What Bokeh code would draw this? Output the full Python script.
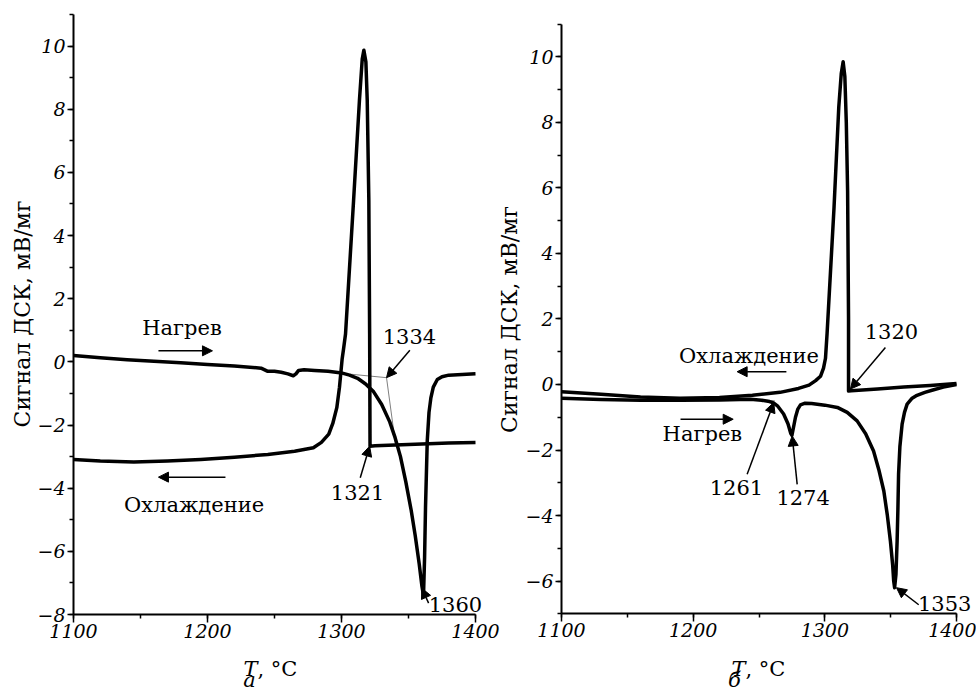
import math
from bokeh.plotting import figure
from bokeh.models import Range1d, SingleIntervalTicker, Label, Arrow, NormalHead, LinearAxis
from bokeh.embed import file_html
from bokeh.resources import INLINE

# ---------------- panel a ----------------
a_heat_T = [1100, 1120, 1140, 1160, 1180, 1200, 1220, 1240, 1245, 1250, 1255, 1260, 1264, 1266,
            1268, 1272, 1280, 1290, 1300, 1306, 1312, 1318, 1324, 1330, 1336, 1340, 1344, 1348,
            1352, 1355, 1358, 1360, 1361.2, 1362, 1362.7, 1364, 1365.3, 1366.7, 1368.5, 1371.5,
            1375, 1380, 1390, 1400]
a_heat_S = [0.2, 0.13, 0.07, 0.02, -0.03, -0.08, -0.13, -0.2, -0.3, -0.3, -0.33, -0.38, -0.44, -0.38,
            -0.27, -0.25, -0.27, -0.3, -0.35, -0.42, -0.52, -0.7, -0.95, -1.35, -1.9, -2.4, -3.0, -3.8,
            -4.7, -5.5, -6.4, -7.1, -7.4, -6.2, -4.6, -2.5, -1.6, -1.14, -0.8, -0.56,
            -0.47, -0.42, -0.4, -0.38]

a_cool_T = [1400, 1380, 1360, 1340, 1325, 1321.3, 1321.0, 1320.4, 1319.2, 1318.2, 1316.7, 1315.5,
            1313.4, 1309.0, 1303.0, 1301.5, 1300.5, 1298.5, 1296.5, 1293.5, 1290.5, 1285, 1279,
            1265, 1245, 1220, 1195, 1170, 1145, 1120, 1100]
a_cool_S = [-2.55, -2.57, -2.6, -2.63, -2.66, -2.67, 0.9, 5.1, 8.29, 9.5, 9.87, 9.6,
            8.29, 5.1, 0.88, 0.4, 0.1, -0.8, -1.45, -1.95, -2.29, -2.55, -2.72,
            -2.83, -2.93, -3.02, -3.09, -3.14, -3.17, -3.14, -3.09]

a_tangent_T = [1306.7, 1333.6, 1340.3]
a_tangent_S = [-0.39, -0.5, -2.61]

a_texts = ["Нагрев", "Охлаждение", "1334", "1321", "1360"]
a_text_T = [1181, 1190, 1350.7, 1312, 1385]
a_text_S = [1.06, -4.54, 0.79, -4.14, -7.67]

a_arrow_T0 = [1163.4, 1213.4, 1351, 1314, 1365]
a_arrow_S0 = [0.35, -3.65, 0.37, -3.67, -7.64]
a_arrow_T1 = [1203.7, 1163.4, 1333.6, 1321, 1360]
a_arrow_S1 = [0.35, -3.65, -0.5, -2.67, -7.17]

# ---------------- panel б ----------------
b_cool_T = [1400, 1380, 1360, 1340, 1320, 1318, 1318, 1317.3, 1316.3, 1315.2, 1313.9,
            1312.5, 1310.6, 1307, 1301.7, 1300.5, 1299, 1296.7, 1293, 1288, 1280,
            1266, 1245, 1220, 1190, 1160, 1130, 1100]
b_cool_S = [0.03, -0.03, -0.08, -0.14, -0.19, -0.2, 2.0, 5.9, 8.0, 9.4, 9.85,
            9.5, 8.47, 5.41, 1.55, 0.8, 0.5, 0.25, 0.12, -0.02, -0.12,
            -0.24, -0.33, -0.4, -0.42, -0.38, -0.3, -0.22]

b_heat_T = [1100, 1130, 1160, 1190, 1220, 1243.5, 1252, 1258, 1261, 1264, 1268.7, 1272, 1274.2,
            1275, 1276, 1277.7, 1279.5, 1281.5, 1285, 1290, 1300, 1309.5, 1317, 1324.5, 1331,
            1337, 1341, 1344.8, 1347.5, 1349.8, 1351.5, 1352.3, 1353, 1354, 1354.9, 1355.5,
            1356, 1357, 1358.7, 1360.5, 1362.5, 1366, 1370, 1376, 1382.7, 1390, 1400]
b_heat_S = [-0.42, -0.46, -0.48, -0.48, -0.47, -0.45, -0.48, -0.52, -0.56, -0.65, -0.9, -1.2, -1.5,
            -1.55, -1.35, -1.0, -0.75, -0.62, -0.57, -0.58, -0.63, -0.7, -0.85, -1.11, -1.5,
            -2.03, -2.6, -3.25, -4.0, -4.78, -5.5, -6.0, -6.2, -5.8, -4.78, -3.8,
            -2.74, -1.9, -1.21, -0.85, -0.6, -0.43, -0.33, -0.24, -0.16, -0.08, 0.0]

b_tangent_T = [1240, 1262]
b_tangent_S = [-0.44, -0.5]

b_texts = ["Охлаждение", "Нагрев", "1320", "1261", "1274", "1353"]
b_text_T = [1242.4, 1207, 1350.6, 1232.9, 1283.5, 1391]
b_text_S = [0.88, -1.51, 1.61, -3.14, -3.46, -6.69]

b_arrow_T0 = [1270.8, 1190.4, 1346, 1241, 1279, 1371.3]
b_arrow_S0 = [0.39, -1.06, 1.13, -2.74, -3.05, -6.72]
b_arrow_T1 = [1233.4, 1230.4, 1319.4, 1261.2, 1275.2, 1354.4]
b_arrow_S1 = [0.39, -1.06, -0.14, -0.55, -1.57, -6.2]

x_ticks = [1100, 1200, 1300, 1400]
a_y_ticks = [-8, -6, -4, -2, 0, 2, 4, 6, 8, 10]
b_y_ticks = [-6, -4, -2, 0, 2, 4, 6, 8, 10]
y_title = "Сигнал ДСК, мВ/мг"

SERIF = "DejaVu Serif"
W, H = 976, 693          # canvas size; the page draws it at the top-left corner
OX, OY = 0, 0


def xr(v0, p0, v1, p1):
    s = (p1 - p0) / (v1 - v0)
    start = v0 - (p0 - OX) / s
    return Range1d(start, start + W / s)


def yr(vt, pt, vb, pb):
    s = (pb - pt) / (vt - vb)
    end = vt + (pt - OY) / s
    return Range1d(end - H / s, end)


def px2x(rng, px):
    return rng.start + (px - OX) / W * (rng.end - rng.start)


def py2y(rng, py):
    return rng.end - (py - OY) / H * (rng.end - rng.start)


def fmt(v):
    return ("\u2212" + str(abs(v))) if v < 0 else str(v)


xa = xr(1100, 73, 1400, 475)
ya = yr(11, 14, -8, 614)
xb = xr(1100, 561, 1400, 956)
yb = yr(11, 23.5, -7, 613.4)

p = figure(width=W, height=H, output_backend="svg", toolbar_location=None,
           x_range=xa, y_range=ya, x_axis_type=None, y_axis_type=None,
           min_border=0, min_border_left=0, min_border_right=0,
           min_border_top=0, min_border_bottom=0)
p.extra_x_ranges = {"xb": xb}
p.extra_y_ranges = {"yb": yb}
p.outline_line_color = None
p.grid.visible = False
p.background_fill_color = "white"
p.border_fill_color = "white"


def style_axis(ax, is_x):
    ax.axis_line_width = 2
    ax.axis_line_color = "black"
    ax.major_tick_line_width = 1.5
    ax.minor_tick_line_width = 1.5
    ax.major_tick_line_color = "black"
    ax.minor_tick_line_color = "black"
    ax.major_tick_in = 0
    ax.minor_tick_in = 0
    ax.minor_tick_out = 4
    ax.major_tick_out = 8 if is_x else 6
    ax.major_label_standoff = 1 if is_x else 2
    ax.major_label_text_font = SERIF
    ax.major_label_text_font_style = "italic"
    ax.major_label_text_font_size = "19px"
    ax.major_label_text_color = "black"


def panel(rx, ry, heat_T, heat_S, cool_T, cool_S, tan_T, tan_S, texts, tT, tS,
          aT0, aS0, aT1, aS1, y_ticks, ybottom, letter,
          ylab_px, ylab_py, t_px, t_py, let_px, let_py):
    xrng = xa if rx == "default" else xb
    yrng = ya if ry == "default" else yb
    kw = dict(x_range_name=rx, y_range_name=ry)

    xaxis = LinearAxis(ticker=SingleIntervalTicker(interval=100, num_minor_ticks=2),
                       fixed_location=ybottom, bounds=(1100, 1400), **kw)
    style_axis(xaxis, True)
    xaxis.major_label_overrides = {t: str(t) for t in x_ticks}
    p.add_layout(xaxis, "below")

    yaxis = LinearAxis(ticker=SingleIntervalTicker(interval=2, num_minor_ticks=2),
                       fixed_location=1100, bounds=(ybottom, 11), **kw)
    style_axis(yaxis, False)
    yaxis.major_label_overrides = {t: fmt(t) for t in y_ticks}
    p.add_layout(yaxis, "left")

    p.line(tan_T, tan_S, line_color="#808080", line_width=1, **kw)
    p.line(heat_T, heat_S, line_color="black", line_width=3.5, line_join="round", **kw)
    p.line(cool_T, cool_S, line_color="black", line_width=3.5, line_join="round", **kw)

    for t, x, y in zip(texts, tT, tS):
        p.add_layout(Label(x=x, y=y, text=t, text_font=SERIF, text_font_size="21px",
                           text_align="center", text_baseline="middle", text_color="black", **kw))
    for x0, y0, x1, y1 in zip(aT0, aS0, aT1, aS1):
        p.add_layout(Arrow(x_start=x0, y_start=y0, x_end=x1, y_end=y1, line_width=1.5,
                           line_color="black",
                           end=NormalHead(size=10, fill_color="black", line_color="black",
                                          line_width=1), **kw))

    p.add_layout(Label(x=px2x(xrng, ylab_px), y=py2y(yrng, ylab_py), text=y_title,
                       angle=math.pi / 2, text_font=SERIF, text_font_size="22px",
                       text_align="center", text_baseline="middle", text_color="black", **kw))
    p.add_layout(Label(x=px2x(xrng, t_px), y=py2y(yrng, t_py), text="T", text_font=SERIF,
                       text_font_style="italic", text_font_size="21px", text_align="right",
                       text_baseline="alphabetic", text_color="black", **kw))
    p.add_layout(Label(x=px2x(xrng, t_px), y=py2y(yrng, t_py), text=", \u00b0C",
                       text_font=SERIF, text_font_size="21px", text_align="left",
                       text_baseline="alphabetic", text_color="black", **kw))
    p.add_layout(Label(x=px2x(xrng, let_px), y=py2y(yrng, let_py), text=letter,
                       text_font=SERIF, text_font_style="italic", text_font_size="21px",
                       text_align="center", text_baseline="bottom", text_color="black", **kw))


panel("default", "default", a_heat_T, a_heat_S, a_cool_T, a_cool_S, a_tangent_T, a_tangent_S,
      a_texts, a_text_T, a_text_S, a_arrow_T0, a_arrow_S0, a_arrow_T1, a_arrow_S1,
      a_y_ticks, -8, "а", 22, 313.5, 257, 668, 249, 691)
panel("xb", "yb", b_heat_T, b_heat_S, b_cool_T, b_cool_S, b_tangent_T, b_tangent_S,
      b_texts, b_text_T, b_text_S, b_arrow_T0, b_arrow_S0, b_arrow_T1, b_arrow_S1,
      b_y_ticks, -7, "б", 509, 319, 745, 668, 734, 691)

open("out.html", "w").write(file_html(p, INLINE))
